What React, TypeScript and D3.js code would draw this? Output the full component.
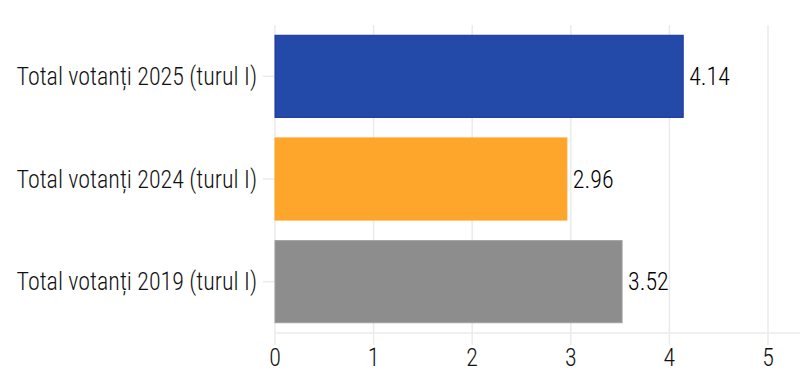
import { FC, useMemo } from "react";
import * as d3 from "d3";

const WIDTH = 800;
const HEIGHT = 385;
const MARGIN = { top: 25, right: 32, bottom: 52, left: 275 };

const categories = [
  "Total votanți 2025 (turul I)",
  "Total votanți 2024 (turul I)",
  "Total votanți 2019 (turul I)",
];
const values = [4.14, 2.96, 3.52];
const barColors = ["#234aa8", "#fda62b", "#8d8d8d"];
const barStrokes = ["#1a30a0", "#fda62b", "#a0a0a0"];
const xTicks = [0, 1, 2, 3, 4, 5];

const FONT = "'Roboto Condensed', Roboto, sans-serif";
const FS = 25.5;
const SX = 0.94; // squeeze Roboto to look condensed

const App: FC = () => {
  const boundsWidth = WIDTH - MARGIN.left - MARGIN.right;
  const boundsHeight = HEIGHT - MARGIN.top - MARGIN.bottom;

  const yScale = useMemo(
    () =>
      d3
        .scaleBand()
        .domain(categories)
        .range([0, boundsHeight])
        .paddingInner(0.2)
        .paddingOuter(0.1),
    [boundsHeight]
  );

  const xScale = useMemo(
    () => d3.scaleLinear().domain([0, 5]).range([0, 493]),
    []
  );

  const grid = xTicks.map((t) => (
    <line
      key={t}
      x1={xScale(t)}
      x2={xScale(t)}
      y1={0}
      y2={boundsHeight + 12}
      stroke="#ebebeb"
      strokeWidth={1.5}
    />
  ));

  const bars = categories.map((c, i) => {
    const y = yScale(c) ?? 0;
    const bh = yScale.bandwidth();
    const lx = xScale(values[i]) + 6;
    return (
      <g key={c}>
        <line x1={-12} x2={0} y1={y + bh / 2} y2={y + bh / 2} stroke="#ebebeb" strokeWidth={1.5} />
        <rect
          x={xScale(0)}
          y={y}
          width={xScale(values[i]) - xScale(0)}
          height={bh}
          fill={barColors[i]}
          stroke={barStrokes[i]}
          strokeWidth={1}
        />
        <text
          x={0}
          y={y + bh / 2}
          dominantBaseline="central"
          fontSize={FS}
          fill="#000"
          transform={`translate(${lx},0) scale(${SX},1)`}
        >
          {values[i].toFixed(2)}
        </text>
        <text
          x={0}
          y={y + bh / 2}
          textAnchor="end"
          dominantBaseline="central"
          fontSize={FS}
          fill="#111"
          transform={`translate(-18,0) scale(${SX},1)`}
        >
          {c}
        </text>
      </g>
    );
  });

  const tickLabels = xTicks.map((t) => (
    <text
      key={t}
      x={0}
      y={boundsHeight + 24}
      textAnchor="middle"
      dominantBaseline="central"
      fontSize={FS}
      fill="#111"
      transform={`translate(${xScale(t)},0) scale(${SX},1)`}
    >
      {t}
    </text>
  ));

  return (
    <svg
      width={WIDTH}
      height={HEIGHT}
      style={{ position: "absolute", left: 0, top: 0, background: "#fff", fontFamily: FONT, fontWeight: 300 }}
    >
      <g transform={`translate(${MARGIN.left},${MARGIN.top})`}>
        {grid}
        <line x1={0} x2={WIDTH - MARGIN.left} y1={boundsHeight} y2={boundsHeight} stroke="#ebebeb" strokeWidth={1.5} />
        {bars}
        {tickLabels}
      </g>
    </svg>
  );
};

export default App;
